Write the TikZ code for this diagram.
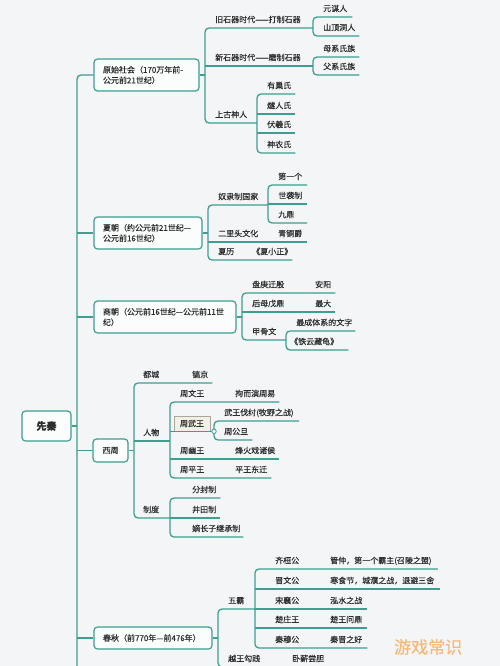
\documentclass[tikz,border=0pt]{standalone}
\usepackage{fontspec}
\setmainfont{Noto Sans CJK SC}[FakeBold=0.35]
\usepackage{tikz}
\usetikzlibrary{positioning}

\definecolor{lineteal}{RGB}{62,158,143}
\definecolor{paper}{RGB}{244,245,247}
\definecolor{ink}{RGB}{45,45,45}
\definecolor{boxfill}{RGB}{251,252,252}
\definecolor{tagfill}{RGB}{242,239,230}
\definecolor{tagline}{RGB}{170,166,156}
\definecolor{wmark}{RGB}{244,184,120}

\tikzset{
  link/.style={draw=lineteal, line width=1.3pt},
  fork/.style={link, rounded corners=4pt},
  topic/.style={draw=lineteal, line width=1.2pt, fill=boxfill, rounded corners=3.5pt, inner xsep=9pt, inner ysep=0pt, align=left, text=ink, font=\fontsize{8}{10.5}\selectfont},
  lbl/.style={anchor=south west, inner sep=0pt, text height=7pt, text depth=5.3pt, text=ink, font=\fontsize{8}{10}\selectfont},
  tag/.style={draw=tagline, line width=0.6pt, fill=tagfill, inner sep=0pt, minimum width=36pt, minimum height=15pt, text=ink, font=\fontsize{8}{10}\selectfont},
  knob/.style={circle, draw=lineteal, line width=0.8pt, fill=white, inner sep=0pt, minimum size=4.5pt},
}

\begin{document}
\begin{tikzpicture}[x=1pt, y=-1pt]
    \fill[paper] (0,0) rectangle (500,666);
    \useasboundingbox (0,0) rectangle (500,666);

    % fork lines
    \coordinate (trunk) at (77,672);
    \coordinate (f1) at (205,0);
    \coordinate (f11) at (313,0);
    \coordinate (f12) at (313,0);
    \coordinate (f13) at (257,0);
    \coordinate (f2) at (208,0);
    \coordinate (f21) at (268,0);
    \coordinate (e21) at (307,0);
    \coordinate (f3) at (242,0);
    \coordinate (f31) at (286,0);
    \coordinate (f4) at (134,0);
    \coordinate (f41) at (170,0);
    \coordinate (f411) at (214,0);
    \coordinate (f42) at (170,0);
    \coordinate (f5) at (218,0);
    \coordinate (f51) at (255,0);

    % eras
    \node[topic, text width=31pt, align=center, minimum height=30pt, font=\fontsize{10}{12}\selectfont\bfseries] (xq) at (46.5,426) {先秦};
    \node[topic, text width=87pt, minimum height=32pt] (ys) at (146.5,75) {原始社会（170万年前-\\公元前21世纪）};
    \node[topic, text width=90pt, minimum height=32pt] (xc) at (148,233) {夏朝（约公元前21世纪—\\公元前16世纪）};
    \node[topic, text width=124pt, minimum height=32pt] (sc) at (165,317) {商朝（公元前16世纪—公元前11世\\纪）};
    \node[topic, text width=17pt, align=center, minimum height=23pt] (xz) at (110.5,450.5) {西周};
    \node[topic, text width=100pt, minimum height=22pt] (cq) at (153,638) {春秋（前770年—前476年）};

    \draw[fork] (ys.west) -| (trunk);
    \draw[link] (xc.west) -- (xc.west -| trunk);
    \draw[link] (sc.west) -- (sc.west -| trunk);
    \draw[link] (xz.west) -- (xz.west -| trunk);
    \draw[link] (cq.west) -- (cq.west -| trunk);
    \draw[link] (xq.east) -- (xq.east -| trunk);

    % 原始社会
    \node[lbl] (jsq) at (215,28) {旧石器时代——打制石器};
    \node[lbl] (xsq) at (215,66) {新石器时代——磨制石器};
    \node[lbl] (sgsr) at (215,123) {上古神人};
    \draw[link] (ys.east) -- (ys.east -| f1);
    \draw[fork] (jsq.south -| f11) -| (sgsr.south -| f1) -- (sgsr.south -| f13);
    \draw[link] (xsq.south -| f1) -- (xsq.south -| f12);

    \node[lbl] (ymr) at (323,17) {元谋人};
    \node[lbl] (sdd) at (323,36) {山顶洞人};
    \draw[fork] ([xshift=5pt]ymr.south east) -| (sdd.south -| f11) -- ([xshift=4pt]sdd.south east);

    \node[lbl] (mxs) at (323,57) {母系氏族};
    \node[lbl] (fxs) at (323,75) {父系氏族};
    \draw[fork] ([xshift=4pt]mxs.south east) -| (fxs.south -| f12) -- ([xshift=4pt]fxs.south east);

    \node[lbl] (ycs) at (267,94) {有巢氏};
    \node[lbl] (srs) at (267,114) {燧人氏};
    \node[lbl] (fys) at (267,133) {伏羲氏};
    \node[lbl] (sns) at (267,153) {神农氏};
    \draw[fork] ([xshift=4pt]ycs.south east) -| (sns.south -| f13) -- ([xshift=4pt]sns.south east);
    \draw[link] (srs.south -| f13) -- ([xshift=4pt]srs.south east);
    \draw[link] (fys.south -| f13) -- ([xshift=4pt]fys.south east);

    % 夏朝
    \node[lbl] (nlz) at (218,205) {奴隶制国家};
    \node[lbl] (elt) at (218,242) {二里头文化};
    \node[lbl] (qtj) at (278,242) {青铜爵};
    \node[lbl] (xli) at (218,260) {夏历};
    \node[lbl] (xxz) at (252,260) {《夏小正》};
    \draw[link] (xc.east) -- (xc.east -| f2);
    \draw[fork] (nlz.south -| f21) -| (xli.south -| f2) -- (xxz.south east);
    \draw[link] (elt.south -| f2) -- ([xshift=5pt]qtj.south east);

    \node[lbl] (dyg) at (278,185) {第一个};
    \node[lbl] (sxz) at (278,204) {世袭制};
    \node[lbl] (jd) at (278,223) {九鼎};
    \draw[fork] (dyg.south -| e21) -| (jd.south -| f21) -- (jd.south -| e21);
    \draw[link] (sxz.south -| f21) -- (sxz.south -| e21);

    % 商朝
    \node[lbl] (pgq) at (252,293) {盘庚迁殷};
    \node[lbl] (ay) at (315,293) {安阳};
    \node[lbl] (hmw) at (252,312) {后母戊鼎};
    \node[lbl] (zd) at (315,312) {最大};
    \node[lbl] (jgw) at (252,340) {甲骨文};
    \draw[link] (sc.east) -- (sc.east -| f3);
    \draw[fork] ([xshift=4pt]ay.south east) -| (jgw.south -| f3) -- (jgw.south -| f31);
    \draw[link] (hmw.south -| f3) -- ([xshift=4pt]zd.south east);

    \node[lbl] (zct) at (296,331) {最成体系的文字};
    \node[lbl] (tyc) at (290,350) {《铁云藏龟》};
    \draw[fork] ([xshift=3pt]zct.south east) -| (tyc.south -| f31) -- ([xshift=10pt]tyc.south east);

    % 西周
    \node[lbl] (dc) at (143,383) {都城};
    \node[lbl] (gj) at (192,383) {镐京};
    \node[lbl] (rw) at (143,441) {人物};
    \node[lbl] (zdu) at (143,518) {制度};
    \draw[link] (xz.east) -- (xz.east -| f4);
    \draw[fork] ([xshift=4pt]gj.south east) -| (zdu.south -| f4) -- (zdu.south -| f42);
    \draw[link] (rw.south -| f4) -- (rw.south -| f41);

    \node[lbl] (zwen) at (180,402) {周文王};
    \node[lbl] (jey) at (235,402) {拘而演周易};
    \node[tag] (zww) at (192,423.5) {周武王};
    \node[lbl] (zyw) at (180,459) {周幽王};
    \node[lbl] (fhx) at (235,459) {烽火戏诸侯};
    \node[lbl] (zpw) at (180,478) {周平王};
    \node[lbl] (pwd) at (235,478) {平王东迁};
    \draw[fork] ([xshift=4pt]jey.south east) -| (zpw.south -| f41) -- ([xshift=4pt]pwd.south east);
    \draw[link] (zyw.south -| f41) -- ([xshift=4pt]fhx.south east);
    \draw[link] (zww.south -| f41) -- (zww.south -| f411);

    \node[lbl] (wwf) at (224,421) {武王伐纣(牧野之战)};
    \node[lbl] (zgd) at (224,440) {周公旦};
    \draw[fork] ([xshift=5pt]wwf.south east) -| (zgd.south -| f411) -- ([xshift=4pt]zgd.south east);
    \node[knob] (kb) at (zww.south -| f411) {};

    \node[lbl] (ffz) at (192,498) {分封制};
    \node[lbl] (jtz) at (192,518) {井田制};
    \node[lbl] (dzz) at (192,537) {嫡长子继承制};
    \draw[fork] ([xshift=4pt]ffz.south east) -| (dzz.south -| f42) -- ([xshift=3pt]dzz.south east);
    \draw[link] (jtz.south -| f42) -- ([xshift=4pt]jtz.south east);

    % 春秋
    \node[lbl] (wb) at (228,609) {五霸};
    \node[lbl] (ywg) at (228,667) {越王勾践};
    \node[lbl] (wxc) at (292,667) {卧薪尝胆};
    \draw[link] (cq.east) -- (cq.east -| f5);
    \draw[fork] (wb.south -| f51) -| (ywg.south -| f5) -- ([xshift=4pt]wxc.south east);

    \node[lbl] (qhg) at (275,569) {齐桓公};
    \node[lbl] (gz) at (330,569) {管仲，第一个霸主(召陵之盟)};
    \node[lbl] (jwg) at (275,589) {晋文公};
    \node[lbl] (hsj) at (330,589) {寒食节，城濮之战，退避三舍};
    \node[lbl] (sxg) at (275,609) {宋襄公};
    \node[lbl] (hsz) at (330,609) {泓水之战};
    \node[lbl] (czw) at (275,628) {楚庄王};
    \node[lbl] (cww) at (330,628) {楚王问鼎};
    \node[lbl] (qmg) at (275,648) {秦穆公};
    \node[lbl] (qjz) at (330,648) {秦晋之好};
    \draw[fork] ([xshift=6pt]gz.south east) -| (qmg.south -| f51) -- ([xshift=5pt]qjz.south east);
    \draw[link] (jwg.south -| f51) -- ([xshift=6pt]hsj.south east);
    \draw[link] (sxg.south -| f51) -- ([xshift=5pt]hsz.south east);
    \draw[link] (czw.south -| f51) -- ([xshift=5pt]cww.south east);

    \node[text=wmark, anchor=west, inner sep=0pt, font=\fontsize{17}{17}\selectfont] (wm) at (394,647) {游戏常识};
\end{tikzpicture}
\end{document}
